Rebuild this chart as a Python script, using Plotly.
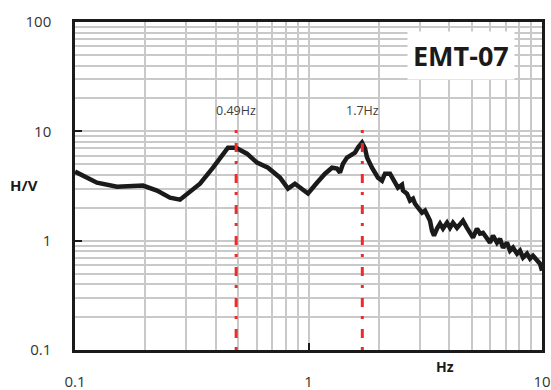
import math
import plotly.graph_objects as go

# Frequency (Hz) and H/V ratio
freq = [0.100, 0.1242, 0.1513, 0.1955, 0.2245, 0.2551, 0.2816, 0.3108, 0.343, 0.390,
        0.430, 0.452, 0.489, 0.545, 0.602, 0.671, 0.755, 0.817, 0.875, 0.920,
        0.995, 1.087, 1.177, 1.261, 1.325, 1.364, 1.405, 1.462, 1.536, 1.582,
        1.629, 1.695, 1.746, 1.781, 1.870, 1.984, 2.064, 2.126, 2.234, 2.346,
        2.416, 2.514, 2.539, 2.641, 2.721, 2.803, 2.858, 2.944, 3.063, 3.155,
        3.250, 3.315, 3.381, 3.448, 3.551, 3.658, 3.767, 3.919, 4.036, 4.157,
        4.325, 4.455, 4.588, 4.772, 4.915, 5.063, 5.266, 5.425, 5.588, 5.813,
        5.988, 6.168, 6.416, 6.609, 6.808, 7.082, 7.295, 7.514, 7.816, 8.051,
        8.293, 8.626, 8.885, 9.152, 9.520, 9.804, 10.0]
hv = [4.28, 3.39, 3.12, 3.19, 2.87, 2.47, 2.37, 2.80, 3.32, 4.65,
      6.25, 7.09, 7.09, 6.25, 5.17, 4.65, 3.77, 2.99, 3.32, 3.05,
      2.70, 3.39, 4.10, 4.65, 4.56, 4.19, 5.06, 5.75, 6.25, 6.38,
      7.09, 7.88, 6.95, 5.75, 4.65, 3.77, 3.54, 4.10, 4.10, 3.32,
      3.05, 3.25, 2.87, 2.69, 2.32, 2.42, 2.18, 2.00, 1.80, 1.88,
      1.69, 1.52, 1.23, 1.11, 1.29, 1.43, 1.29, 1.46, 1.31, 1.46,
      1.31, 1.43, 1.52, 1.31, 1.20, 1.065, 1.29, 1.16, 1.18, 1.04,
      0.959, 1.11, 0.959, 1.04, 0.863, 0.959, 0.81, 0.863, 0.76, 0.81,
      0.699, 0.76, 0.685, 0.729, 0.656, 0.616, 0.532]

peaks = [0.49, 1.7]
peak_labels = ["0.49Hz", "1.7Hz"]
peak_line_top = 12
x_ticks = [0.1, 1, 10]
x_tick_text = ["0.1", "1", "10"]
y_ticks = [0.1, 1, 10, 100]
y_tick_text = ["0.1", "1", "10", "100"]
station = "EMT-07"

x_minor = [m * d for d in [0.1, 1] for m in range(2, 10)]
y_minor = [m * d for d in [0.1, 1, 10] for m in range(2, 10)]

FONT = "Open Sans"
grid = "#c9c9c9"
L, R, T, B = 75, 542, 22, 350

fig = go.Figure()
fig.add_trace(go.Scatter(x=freq, y=hv, mode="lines",
                         line=dict(color="#1a1a1a", width=4.5), showlegend=False))

for p, lab in zip(peaks, peak_labels):
    fig.add_shape(type="line", xref="x", yref="y", x0=p, x1=p, y0=0.1, y1=peak_line_top,
                  line=dict(color="#ee2a2a", width=3, dash="3px,9px,9px,10px"))
    fig.add_annotation(x=math.log10(p), y=math.log10(peak_line_top), xref="x", yref="y",
                       text=lab, showarrow=False, yanchor="bottom", yshift=2,
                       font=dict(family=FONT, size=12.5, color="#404040"))

def px_annot(text, cx, cy, size, **kw):
    fig.add_annotation(x=(cx - L) / (R - L), y=1 - (cy - T) / (B - T), xref="paper", yref="paper",
                       xanchor="center", yanchor="middle", text=text, showarrow=False,
                       font=dict(family=FONT, size=size, color="#1a1a1a"), **kw)

px_annot("<b>" + station + "</b>", 461, 56, 27, bgcolor="white", borderpad=5)
px_annot("<b>H/V</b>", 24, 185, 15)
px_annot("<b>Hz</b>", 445, 366, 14)

axis_common = dict(type="log", showline=True, mirror=True, linecolor="#1a1a1a", linewidth=2.5,
                   showgrid=True, gridcolor=grid, gridwidth=1.6, zeroline=False, automargin=False,
                   ticks="inside", ticklen=7, tickwidth=2, tickcolor="#1a1a1a",
                   tickfont=dict(family=FONT, size=15, color="#333333"))

fig.update_xaxes(range=[-1, 1], tickvals=x_ticks, ticktext=x_tick_text,
                 ticklabelstandoff=16,
                 minor=dict(tickvals=x_minor, showgrid=True, gridcolor=grid, gridwidth=1.6, ticks=""),
                 **axis_common)
fig.update_yaxes(range=[-1, 2], tickvals=y_ticks, ticktext=y_tick_text,
                 ticklabelstandoff=18,
                 minor=dict(tickvals=y_minor, showgrid=True, gridcolor=grid, gridwidth=1.6, ticks=""),
                 **axis_common)

fig.update_layout(width=551, height=390, margin=dict(l=L, r=551 - R, t=T, b=390 - B),
                  paper_bgcolor="white", plot_bgcolor="white")

fig.write_html("out.html")
